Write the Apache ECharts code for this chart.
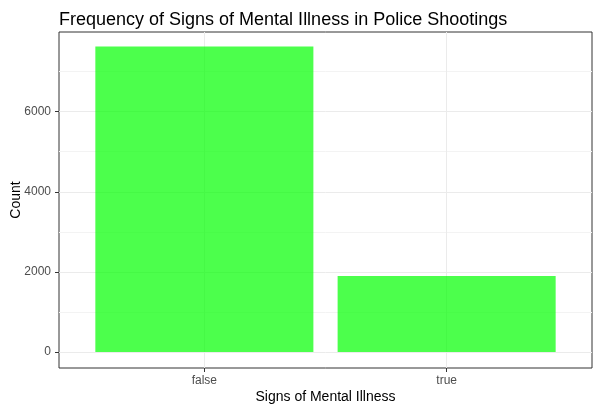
<!DOCTYPE html>
<html>
<head>
<meta charset="utf-8">
<script src="https://cdn.jsdelivr.net/npm/echarts@6/dist/echarts.min.js"></script>
<style>
  html, body { margin: 0; padding: 0; background: #fff; }
  #chart { width: 600px; height: 413px; }
</style>
</head>
<body>
<div id="chart"></div>
<script>
// data
const categories = ['false', 'true'];
const counts = [7630, 1900];
const majorTicks = [0, 2000, 4000, 6000];
const minorTicks = [1000, 3000, 5000, 7000];
const yMin = -400;
const yMax = 7990;

const font = 'Liberation Sans, Arial, sans-serif';
const chart = echarts.init(document.getElementById('chart'));

// discrete x as a value axis so the ggplot-style 0.6 expansion fits
const catPos = categories.map((c, i) => i);
const gridW = 600 - 59 - 8;
const barW = gridW / (categories.length - 1 + 1.2) * 0.9;

chart.setOption({
  animation: false,
  title: {
    text: 'Frequency of Signs of Mental Illness in Police Shootings',
    left: 54,
    top: 6,
    textStyle: { fontFamily: font, fontSize: 18, fontWeight: 'normal', color: '#000' }
  },
  grid: {
    left: 59, right: 8, top: 32, bottom: 45,
    outerBoundsMode: 'none',
    show: true, borderColor: '#333', borderWidth: 1
  },
  xAxis: {
    type: 'value',
    min: -0.6,
    max: categories.length - 1 + 0.6,
    name: 'Signs of Mental Illness',
    nameLocation: 'middle',
    nameGap: 22,
    nameMoveOverlap: false,
    nameTextStyle: { fontFamily: font, fontSize: 14, color: '#000' },
    axisLine: { show: false, onZero: false },
    axisTick: { show: true, length: 4, customValues: catPos, lineStyle: { color: '#333' } },
    axisLabel: {
      fontFamily: font, fontSize: 12, color: '#4d4d4d', margin: 7,
      customValues: catPos,
      formatter: v => categories[Math.round(v)]
    },
    splitLine: { show: true, lineStyle: { color: '#ebebeb', width: 1 } }
  },
  yAxis: [
    {
      type: 'value',
      min: yMin,
      max: yMax,
      name: 'Count',
      nameLocation: 'middle',
      nameGap: 36,
      nameMoveOverlap: false,
      nameTextStyle: { fontFamily: font, fontSize: 14, color: '#000' },
      axisLine: { show: false, onZero: false },
      axisTick: { show: true, length: 4, customValues: majorTicks, lineStyle: { color: '#333' } },
      axisLabel: {
        fontFamily: font, fontSize: 12, color: '#4d4d4d', margin: 8,
        customValues: majorTicks,
        formatter: v => String(v)
      },
      splitLine: { show: true, lineStyle: { color: '#ebebeb', width: 1 } }
    },
    {
      type: 'value',
      min: yMin,
      max: yMax,
      position: 'left',
      axisLine: { show: false, onZero: false },
      axisTick: { show: false, customValues: minorTicks },
      axisLabel: { show: false, customValues: minorTicks },
      splitLine: { show: true, lineStyle: { color: '#f3f3f3', width: 1 } }
    }
  ],
  series: [{
    type: 'bar',
    data: counts.map((v, i) => [catPos[i], v]),
    barWidth: barW,
    itemStyle: { color: 'rgba(0,255,0,0.7)' }
  }]
});
</script>
</body>
</html>
